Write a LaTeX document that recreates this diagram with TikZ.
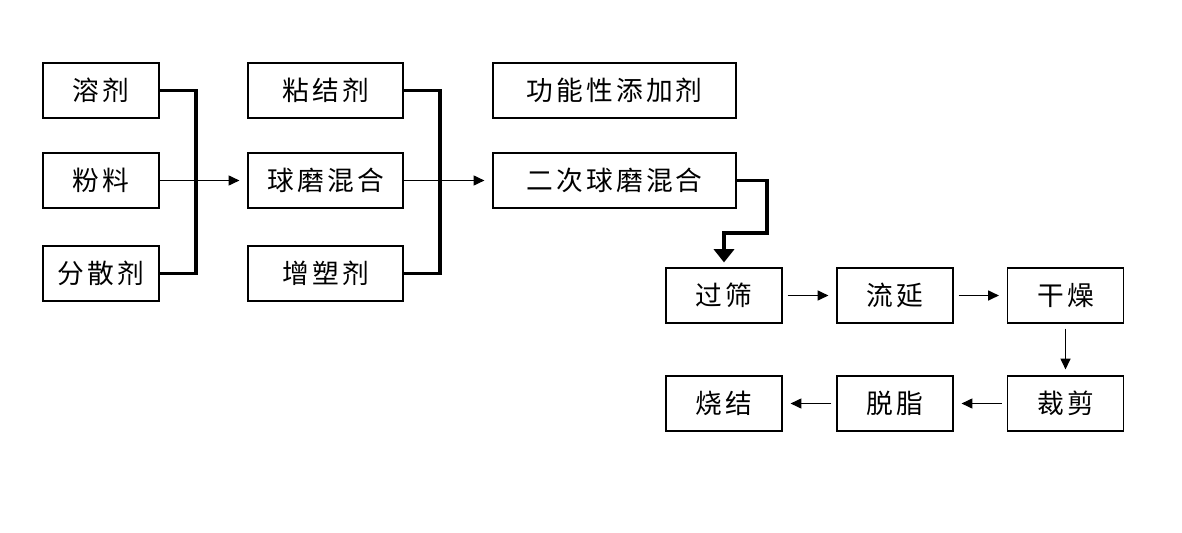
\documentclass[tikz,border=0pt]{standalone}
\usepackage{fontspec}
\newfontfamily\cjk[LetterSpace=12]{Noto Sans CJK SC}
\usepackage{tikz}
\usetikzlibrary{arrows.meta,positioning,calc}

\begin{document}
\begin{tikzpicture}[x=0.025cm, y=-0.025cm,
  every node/.style={font=\cjk\fontsize{19}{21}\selectfont},
  box/.style={draw, line width=0.8pt, minimum height=1.375cm, inner sep=0pt},
  arr/.style={line width=0.9pt, -{Triangle[width=0.25cm,length=0.27cm]}},
  bar/.style={line width=2.8pt}]
  \useasboundingbox (0,0) rectangle (1182,532);
  \node[box, minimum width=2.9cm] (rj) at (101,90.5) {溶剂};
  \node[box, minimum width=2.9cm] (fl) at (101,180.5) {粉料};
  \node[box, minimum width=2.9cm] (fsj) at (101,273.5) {分散剂};
  \node[box, minimum width=3.875cm] (njj) at (325.5,90.5) {粘结剂};
  \node[box, minimum width=3.875cm] (qm) at (325.5,180.5) {球磨混合};
  \node[box, minimum width=3.875cm] (zsj) at (325.5,273.5) {增塑剂};
  \node[box, minimum width=6.075cm] (gn) at (614.5,90.5) {功能性添加剂};
  \node[box, minimum width=6.075cm] (ec) at (614.5,180.5) {二次球磨混合};
  \node[box, minimum width=2.9cm] (gs) at (724,295.5) {过筛};
  \node[box, minimum width=2.9cm] (ly) at (895,295.5) {流延};
  \node[box, minimum width=2.9cm] (gz) at (1065.5,295.5) {干燥};
  \node[box, minimum width=2.9cm] (sj) at (724,403.5) {烧结};
  \node[box, minimum width=2.9cm] (tz) at (895,403.5) {脱脂};
  \node[box, minimum width=2.9cm] (cj) at (1065.5,403.5) {裁剪};
  \coordinate (j1) at (196,180.5);
  \coordinate (j2) at (440,180.5);
  \coordinate (k1) at (767,233);
  \draw[bar] (rj.east) -| (j1) |- (fsj.east);
  \draw[bar] (njj.east) -| (j2) |- (zsj.east);
  \draw[arr, shorten >=0.2cm] (fl.east) -- (qm.west);
  \draw[arr, shorten >=0.2cm] (qm.east) -- (ec.west);
  \draw[bar, -{Triangle[width=0.5cm,length=0.33cm]}, shorten >=0.125cm] (ec.east) -| (k1) -| (gs.north);
  \draw[arr, shorten <=0.125cm, shorten >=0.2cm] (gs) -- (ly);
  \draw[arr, shorten <=0.125cm, shorten >=0.2cm] (ly) -- (gz);
  \draw[arr, shorten <=0.125cm, shorten >=0.15cm] (gz) -- (cj);
  \draw[arr, shorten <=0.125cm, shorten >=0.2cm] (cj) -- (tz);
  \draw[arr, shorten <=0.125cm, shorten >=0.2cm] (tz) -- (sj);
\end{tikzpicture}
\end{document}
